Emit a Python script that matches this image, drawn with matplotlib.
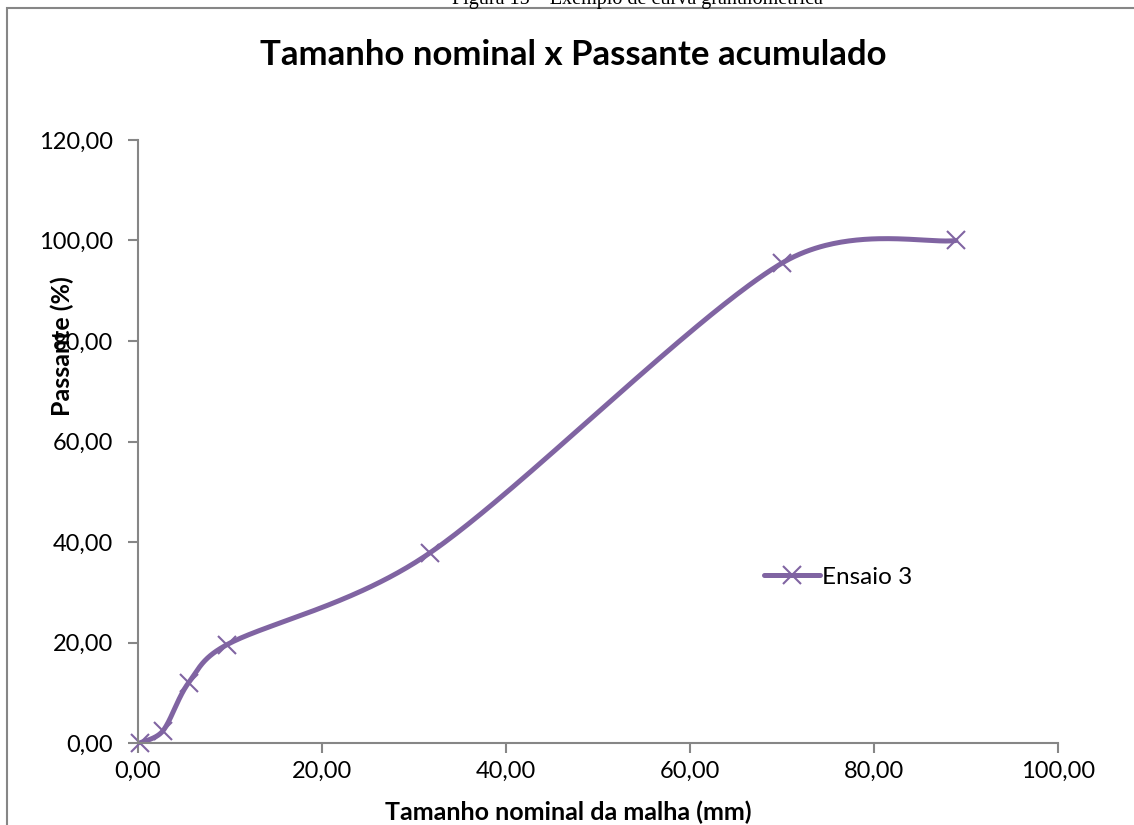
import numpy as np
import matplotlib
matplotlib.use("Agg")
import matplotlib.pyplot as plt
from matplotlib.patches import Rectangle

# Ensaio 3 - peneiramento
abertura_mm = [0.2, 2.7, 5.5, 9.7, 31.7, 70.0, 88.9]
passante = [0.0, 2.4, 12.0, 19.6, 37.8, 95.5, 100.0]
x_ticks = [0, 20, 40, 60, 80, 100]
y_ticks = [0, 20, 40, 60, 80, 100, 120]

ROXO = "#8064A2"
CINZA = "#868686"
FONTE = "Lato"


def curva_suave(ax, x, y, passos=80):
    """Linha suavizada (Bezier) passando pelos pontos, no estilo do Excel.
    As tangentes são reduzidas quando um trecho é bem menor que o vizinho."""
    p = np.column_stack([x, y]).astype(float)
    # distâncias medidas em pixels da área do gráfico
    bb = ax.get_window_extent()
    esc = np.array([bb.width / np.ptp(ax.get_xlim()), bb.height / np.ptp(ax.get_ylim())])
    n = len(p)
    d = [np.hypot(*((p[i + 1] - p[i]) * esc)) for i in range(n - 1)]

    def tangente(i):
        a = p[max(i - 1, 0)]
        b = p[min(i + 1, n - 1)]
        return (b - a) / 6.0

    def fator(seg, outro):
        if outro is None:
            return 1.0
        return min(1.0, 2 * seg / (seg + outro)) ** 0.5

    xs, ys = [], []
    t = np.linspace(0, 1, passos)[:, None]
    for i in range(n - 1):
        p0, p3 = p[i], p[i + 1]
        c1 = p0 + tangente(i) * fator(d[i], d[i - 1] if i > 0 else None)
        c2 = p3 - tangente(i + 1) * fator(d[i], d[i + 1] if i + 1 < n - 1 else None)
        seg = ((1 - t) ** 3) * p0 + 3 * ((1 - t) ** 2) * t * c1 \
            + 3 * (1 - t) * t ** 2 * c2 + t ** 3 * p3
        xs.extend(seg[:, 0])
        ys.extend(seg[:, 1])
    return np.array(xs), np.array(ys)


W, H = 1134, 825
fig = plt.figure(figsize=(W / 100, H / 100), dpi=100)

# moldura do gráfico
fig.patches.append(Rectangle((7 / W, -0.1), 1.2, 1 - 8 / H + 0.1,
                             transform=fig.transFigure, fill=False,
                             edgecolor=CINZA, linewidth=1.5))

# legenda da figura (cortada no topo)
fig.text(637 / W, 1 - 4 / H, "Figura 15 – Exemplo de curva granulométrica",
         ha="center", va="baseline", fontsize=14.5, family="Liberation Serif")

ax = fig.add_axes([138 / W, 1 - 743 / H, 920 / W, 603 / H])
ax.set_xlim(0, 100)
ax.set_ylim(0, 120)

xs, ys = curva_suave(ax, abertura_mm, passante)
ax.plot(xs, ys, color=ROXO, linewidth=3.6, solid_capstyle="round")
ax.plot(abertura_mm, passante, linestyle="none", marker="x", markersize=13,
        markeredgewidth=1.5, color=ROXO, clip_on=False)

# entrada da legenda
ax.plot([], [], color=ROXO, linewidth=3.6, marker="x", markersize=13,
        markeredgewidth=1.5, solid_capstyle="round", label="Ensaio 3")
ax.legend(loc="center left", bbox_to_anchor=((742 - 138) / 920, (743 - 577) / 603),
          frameon=False, handlelength=2.3, handletextpad=0.1,
          prop={"family": FONTE, "size": 17.5})

ax.set_xticks(x_ticks)
ax.set_yticks(y_ticks)
ax.set_xticklabels([f"{v:.2f}".replace(".", ",") for v in x_ticks])
ax.set_yticklabels([f"{v:.2f}".replace(".", ",") for v in y_ticks])

for lado in ["top", "right"]:
    ax.spines[lado].set_visible(False)
for lado in ["left", "bottom"]:
    ax.spines[lado].set_color(CINZA)
    ax.spines[lado].set_linewidth(1.5)
ax.tick_params(axis="both", direction="out", length=7, width=1.5, color=CINZA,
               labelsize=17)
ax.tick_params(axis="x", pad=6)
ax.tick_params(axis="y", pad=11)
for lbl in ax.get_xticklabels() + ax.get_yticklabels():
    lbl.set_family(FONTE)

ax.set_xlabel("Tamanho nominal da malha (mm)", fontsize=18, fontweight="bold",
              family=FONTE)
ax.set_ylabel("Passante (%)", fontsize=18, fontweight="bold", family=FONTE)
ax.xaxis.set_label_coords((568 - 138) / 920, (743 - 812) / 603)
ax.yaxis.set_label_coords((62 - 138) / 920, (743 - 346) / 603)
ax.xaxis.label.set_va("center")
ax.yaxis.label.set_va("center")

fig.text(573 / W, 1 - 55 / H, "Tamanho nominal x Passante acumulado",
         ha="center", va="center", fontsize=25, fontweight="bold", family=FONTE)

fig.savefig("out.png", dpi=100)
